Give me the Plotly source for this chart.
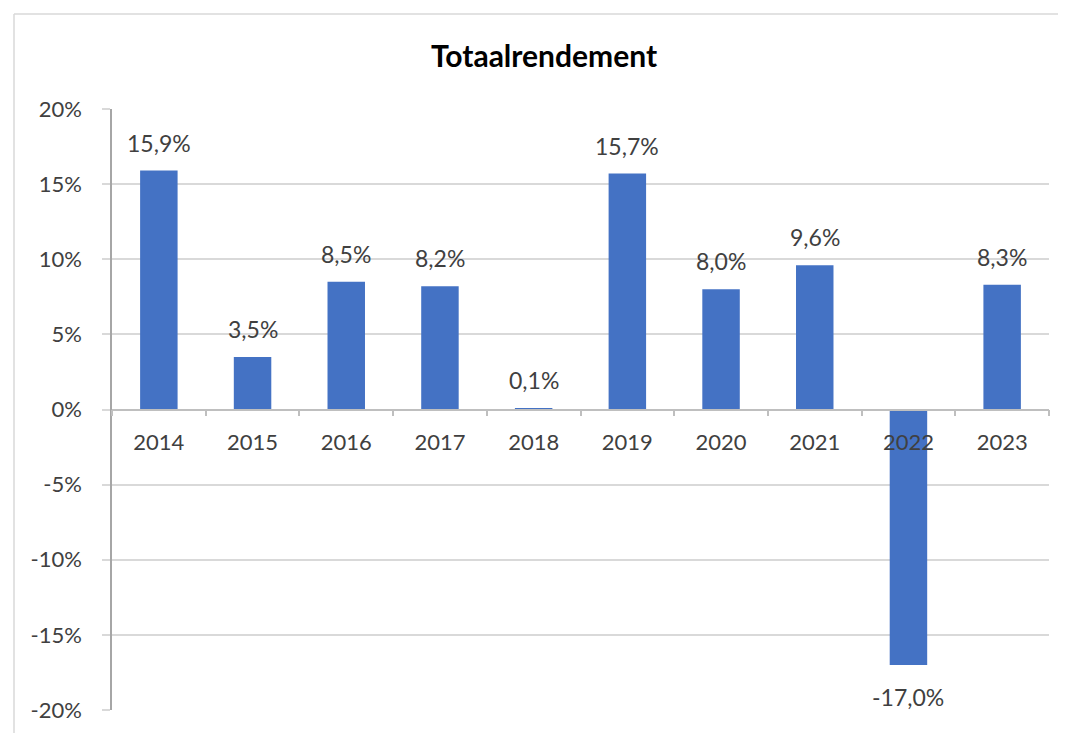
import plotly.graph_objects as go

years = ["2014", "2015", "2016", "2017", "2018", "2019", "2020", "2021", "2022", "2023"]
returns = [15.9, 3.5, 8.5, 8.2, 0.1, 15.7, 8.0, 9.6, -17.0, 8.3]
y_ticks = [-20, -15, -10, -5, 0, 5, 10, 15, 20]
y_tick_labels = ["-20%", "-15%", "-10%", "-5%", "0%", "5%", "10%", "15%", "20%"]

FONT = "Lato"
TXT = "#404040"

fig = go.Figure()
fig.add_trace(go.Bar(x=years, y=returns, marker=dict(color="#4472C4", line=dict(width=0)),
                     hoverinfo="skip"))

annotations = []
for i, (yr, v) in enumerate(zip(years, returns)):
    label = f"{v:.1f}%".replace(".", ",")
    annotations.append(dict(x=i, y=v, xref="x", yref="y", text=label, showarrow=False,
                            yanchor="bottom" if v >= 0 else "top",
                            yshift=12 if v >= 0 else -16,
                            font=dict(family=FONT, size=23, color=TXT)))

# page offset of ~7px compensated
W, H = 1066, 733
l, r, t, b = 104, 25, 101, 31
pw, ph = W - l - r, H - t - b

def px_x(p):
    return (p - l) / pw

def px_y(p):
    return (H - b - p) / ph

shapes = [
    dict(type="line", xref="paper", yref="paper", x0=px_x(6), x1=px_x(1070), y0=px_y(6), y1=px_y(6),
         line=dict(color="#d9d9d9", width=1.5)),
    dict(type="line", xref="paper", yref="paper", x0=px_x(6), x1=px_x(6), y0=px_y(6), y1=px_y(740),
         line=dict(color="#d9d9d9", width=1.5)),
]

fig.update_layout(
    width=W, height=H,
    margin=dict(l=l, r=r, t=t, b=b, autoexpand=False),
    paper_bgcolor="white", plot_bgcolor="white",
    bargap=0.6,
    showlegend=False,
    title=dict(text="<b>Totaalrendement</b>", x=536 / W, xanchor="center", y=1 - 48 / H, yanchor="middle",
               font=dict(family=FONT, size=30, color="#000000")),
    xaxis=dict(type="category", range=[-0.5, len(years) - 0.5], autorange=False,
               anchor="free", position=0.5, showline=True, linecolor="#bfbfbf", linewidth=1.5,
               ticks="outside", tickson="boundaries", ticklen=6, tickcolor="#bfbfbf", tickwidth=1.5,
               ticklabelstandoff=13, showgrid=False, zeroline=False, tickangle=0,
               tickfont=dict(family=FONT, size=22, color=TXT)),
    yaxis=dict(range=[-20, 20], autorange=False, tickvals=y_ticks, ticktext=y_tick_labels, showgrid=True,
               gridcolor="#d9d9d9", gridwidth=1.5, zeroline=False, showline=True, linecolor="#a6a6a6",
               linewidth=1.5, ticks="outside", ticklen=8, tickcolor="#d9d9d9", tickwidth=1.5,
               ticklabelstandoff=16, tickfont=dict(family=FONT, size=22, color=TXT)),
    annotations=annotations,
    shapes=shapes,
)

fig.write_html("out.html")
